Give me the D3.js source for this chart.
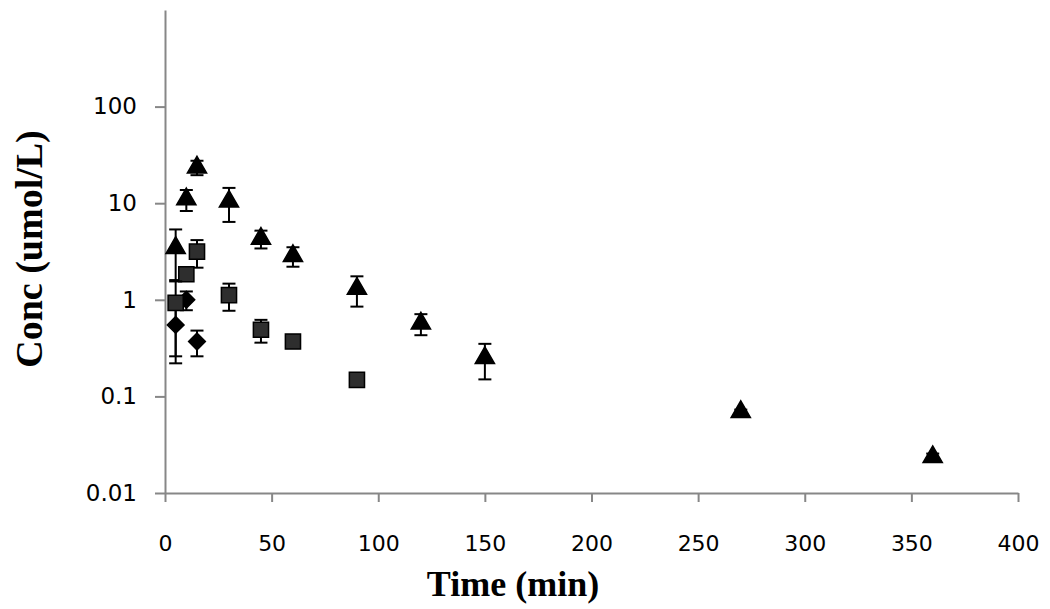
<!DOCTYPE html>
<html>
<head>
<meta charset="utf-8">
<script src="https://cdn.jsdelivr.net/npm/d3@7"></script>
<style>
  html, body { margin: 0; padding: 0; background: #fff; }
  svg { display: block; }
</style>
</head>
<body>
<svg id="chart" width="1050" height="609"></svg>
<script>
// ---- data ----
const xTicks = [0, 50, 100, 150, 200, 250, 300, 350, 400];
const yTicks = [0.01, 0.1, 1, 10, 100];
const yTickLabels = ["0.01", "0.1", "1", "10", "100"];

const diamondTime = [5, 10, 15];
const diamondConc = [0.55, 1.0, 0.37];
const diamondErr  = [0.33, 0.22, 0.11];

const squareTime = [5, 10, 15, 30, 45, 60, 90];
const squareConc = [0.93, 1.84, 3.15, 1.12, 0.49, 0.37, 0.148];
const squareErr  = [0.67, 0.2, 1.0, 0.35, 0.13, 0.03, 0.015];

const triangleTime = [5, 10, 15, 30, 45, 60, 90, 120, 150, 270, 360];
const triangleConc = [3.45, 11.0, 23.5, 10.4, 4.3, 2.85, 1.3, 0.57, 0.25, 0.069, 0.0236];
const triangleErr  = [1.9, 2.7, 4.0, 4.0, 0.9, 0.65, 0.45, 0.14, 0.1, 0.004, 0.002];

// ---- layout ----
const svg = d3.select("#chart");
const x = d3.scaleLinear().domain([0, 400]).range([165, 1018]);
const y = d3.scaleLog().domain([0.01, 1000]).range([493, 10]);
const axisColor = "#878787";
const tickFont = "'DejaVu Sans', Verdana, sans-serif";

// x axis
const xAxis = svg.append("g").attr("transform", `translate(0,${y(0.01)})`)
  .call(d3.axisBottom(x).tickValues(xTicks).tickSize(9).tickPadding(33).tickSizeOuter(0));
xAxis.select(".domain").attr("stroke", axisColor).attr("stroke-width", 2);
xAxis.selectAll(".tick line").attr("stroke", axisColor).attr("stroke-width", 2);
xAxis.selectAll(".tick text")
  .attr("font-family", tickFont).attr("font-size", 22).attr("fill", "#000");

// y axis
const yAxis = svg.append("g").attr("transform", `translate(${x(0)},0)`)
  .call(d3.axisLeft(y).tickValues(yTicks).tickFormat((d, i) => yTickLabels[i])
    .tickSize(10).tickPadding(18).tickSizeOuter(0));
yAxis.select(".domain").attr("stroke", axisColor).attr("stroke-width", 2);
yAxis.selectAll(".tick line").attr("stroke", axisColor).attr("stroke-width", 2);
yAxis.selectAll(".tick text")
  .attr("font-family", tickFont).attr("font-size", 23).attr("fill", "#000");

// axis titles
svg.append("text")
  .attr("x", 513).attr("y", 596)
  .attr("text-anchor", "middle")
  .attr("font-family", "'Liberation Serif', 'Times New Roman', serif")
  .attr("font-weight", "bold").attr("font-size", 36)
  .text("Time (min)");
svg.append("text")
  .attr("transform", "translate(42,249) rotate(-90)")
  .attr("text-anchor", "middle")
  .attr("font-family", "'Liberation Serif', 'Times New Roman', serif")
  .attr("font-weight", "bold").attr("font-size", 38)
  .text("Conc (umol/L)");

// series
function drawSeries(times, vals, errs, shape, size, fill, rot) {
  const data = times.map((t, i) => ({ t, v: vals[i], e: errs[i] }));
  const g = svg.append("g");
  const capW = 6.5;
  data.forEach(d => {
    const lo = Math.max(d.v - d.e, 0.0105);
    const hi = d.v + d.e;
    const cx = x(d.t);
    g.append("line").attr("x1", cx).attr("x2", cx).attr("y1", y(lo)).attr("y2", y(hi))
      .attr("stroke", "#000").attr("stroke-width", 2);
    [lo, hi].forEach(b => {
      g.append("line").attr("x1", cx - capW).attr("x2", cx + capW).attr("y1", y(b)).attr("y2", y(b))
        .attr("stroke", "#000").attr("stroke-width", 2);
    });
  });
  const sym = d3.symbol().type(shape).size(size);
  g.selectAll("path.m").data(data).join("path")
    .attr("class", "m")
    .attr("transform", d => `translate(${x(d.t)},${y(d.v)}) rotate(${rot})`)
    .attr("d", sym)
    .attr("fill", fill)
    .attr("stroke", "#000").attr("stroke-width", 1.5);
}

drawSeries(diamondTime, diamondConc, diamondErr, d3.symbolSquare, 140, "#000", 45);
drawSeries(squareTime, squareConc, squareErr, d3.symbolSquare, 230, "#2e2e2e", 0);
drawSeries(triangleTime, triangleConc, triangleErr, d3.symbolTriangle, 160, "#000", 0);
</script>
</body>
</html>
